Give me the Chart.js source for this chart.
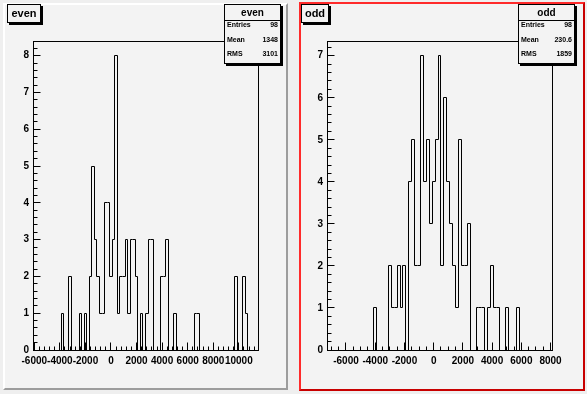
<!DOCTYPE html>
<html lang="en">
<head>
  <meta charset="UTF-8" />
  <title>even / odd</title>
  <script src="https://cdn.jsdelivr.net/npm/chart.js"></script>
  <style>
    html, body { margin: 0; padding: 0; }
    body { width: 587px; height: 394px; position: relative; overflow: hidden; background: #efefef; font-family: "Liberation Sans", Arial, sans-serif; }
    .pad { position: absolute; box-sizing: border-box; background: #f3f3f3; }
    #padEven { left: 3px; top: 3px; width: 285px; height: 387px; border: 2px solid; border-color: #ffffff #9c9c9c #9c9c9c #ffffff; }
    #padOdd { left: 299px; top: 2px; width: 286px; height: 389px; border: 2px solid; border-color: #ff2a2a #c80000 #c80000 #ff2a2a; }
    canvas { position: absolute; top: 0; }
    #evenChart { left: 0; }
    #oddChart { left: 293px; }
    .title, .stats { position: absolute; top: 4px; box-sizing: border-box; background: #f3f3f3; border: 1px solid #000; box-shadow: 2px 2px 0 #000; color: #000; }
    .title { height: 19px; font: bold 11px "Liberation Sans", Arial, sans-serif; text-align: center; line-height: 17px; }
    .stats { width: 57px; height: 60px; }
    .stats .hd { height: 15px; border-bottom: 1px solid #000; text-align: center; font: bold 10px "Liberation Sans", Arial, sans-serif; line-height: 15px; }
    .stats .row { display: flex; justify-content: space-between; padding: 0 2px; height: 14.5px; line-height: 14.5px; font: bold 7px "Liberation Sans", Arial, sans-serif; }
  </style>
</head>
<body>

  <!-- pads -->
  <div class="pad" id="padEven"></div>
  <div class="pad" id="padOdd"></div>

  <canvas id="evenChart" width="293" height="394"></canvas>
  <canvas id="oddChart" width="294" height="394"></canvas>

  <!-- titles + stat boxes -->
  <div class="title" style="left:7px; width:34px;">even</div>
  <div class="stats" style="left:224px;">
    <div class="hd">even</div>
    <div class="row"><span>Entries</span><span>98</span></div>
    <div class="row"><span>Mean</span><span>1348</span></div>
    <div class="row"><span>RMS</span><span>3101</span></div>
  </div>

  <div class="title" style="left:301px; width:28px;">odd</div>
  <div class="stats" style="left:518px;">
    <div class="hd">odd</div>
    <div class="row"><span>Entries</span><span>98</span></div>
    <div class="row"><span>Mean</span><span>230.6</span></div>
    <div class="row"><span>RMS</span><span>1859</span></div>
  </div>

  <script>
    // even histogram: 88 bins of 200 starting at -6100
    const evenXMin = -6100;
    const evenBinWidth = 200;
    const evenCounts = [
      0, 0, 0, 0, 0, 0, 0, 0, 0, 0,
      0, 1, 0, 0, 2, 0, 0, 0, 1, 0,
      1, 0, 2, 5, 3, 2, 1, 1, 4, 4,
      2, 3, 8, 1, 2, 2, 3, 1, 3, 3,
      2, 0, 1, 0, 1, 3, 3, 0, 0, 0,
      2, 2, 3, 0, 0, 1, 0, 0, 0, 0,
      0, 0, 0, 1, 1, 0, 0, 0, 0, 0,
      0, 0, 0, 0, 0, 0, 0, 0, 0, 2,
      0, 0, 2, 1, 0, 0, 0, 0
    ];
    const evenXTicks = [-6000, -4000, -2000, 0, 2000, 4000, 6000, 8000, 10000];
    const evenYTicks = [0, 1, 2, 3, 4, 5, 6, 7, 8];

    // odd histogram: 77 bins of 200 starting at -7300
    const oddXMin = -7300;
    const oddBinWidth = 200;
    const oddCounts = [
      0, 0, 0, 0, 0, 0, 0, 0, 0, 0,
      0, 0, 0, 0, 0, 0, 1, 0, 0, 0,
      0, 2, 1, 1, 2, 1, 2, 0, 4, 5,
      2, 2, 7, 4, 5, 3, 4, 5, 7, 2,
      6, 4, 3, 2, 1, 5, 2, 2, 3, 0,
      0, 1, 1, 1, 0, 1, 2, 1, 1, 0,
      0, 1, 0, 0, 0, 1, 0, 0, 0, 0,
      0, 0, 0, 0, 0, 0, 0
    ];
    const oddXTicks = [-6000, -4000, -2000, 0, 2000, 4000, 6000, 8000];
    const oddYTicks = [0, 1, 2, 3, 4, 5, 6, 7];

    const px = v => Math.floor(v) + 0.5;

    // ROOT style frame box + inward ticks, and crisp histogram outline
    const rootFrame = {
      id: 'rootFrame',
      afterDatasetsUpdate(chart) {
        chart.getDatasetMeta(0).data.forEach(p => { p.x = px(p.x); p.y = px(p.y); });
      },
      afterDatasetsDraw(chart, args, opts) {
        const { ctx, chartArea: a, scales: { x, y } } = chart;
        const L = px(a.left), R = px(a.right), T = px(a.top), B = px(a.bottom);
        ctx.save();
        ctx.strokeStyle = '#000';
        ctx.lineWidth = 1;
        ctx.strokeRect(L, T, R - L, B - T);
        ctx.beginPath();
        const step = opts.xMinor;
        for (let v = Math.ceil(x.min / step) * step; v <= x.max; v += step) {
          const xp = px(x.getPixelForValue(v));
          const major = opts.xTicks.includes(v);
          ctx.moveTo(xp, B);
          ctx.lineTo(xp, B - (major ? 8 : 4));
        }
        for (let i = 0; i * 0.2 <= y.max + 1e-9; i++) {
          const yp = px(y.getPixelForValue(i * 0.2));
          ctx.moveTo(L, yp);
          ctx.lineTo(L + (i % 5 === 0 ? 7 : 4), yp);
        }
        ctx.stroke();
        ctx.restore();
      }
    };

    function histPoints(xmin, width, counts) {
      const pts = counts.map((c, i) => ({ x: xmin + i * width, y: c }));
      pts.push({ x: xmin + counts.length * width, y: counts[counts.length - 1] });
      return pts;
    }

    function drawHist(id, xmin, width, counts, xTicks, yTicks, xMinor, pad) {
      const xmax = xmin + counts.length * width;
      const ymax = Math.max(...counts) * 1.05;
      const font = { family: '"Liberation Sans", Arial, sans-serif', size: 10, weight: 'bold' };
      return new Chart(document.getElementById(id), {
        type: 'line',
        data: {
          datasets: [{
            data: histPoints(xmin, width, counts),
            stepped: 'before',
            borderColor: '#000',
            borderWidth: 1,
            pointRadius: 0,
            fill: false,
            clip: false
          }]
        },
        options: {
          responsive: false,
          animation: false,
          devicePixelRatio: 1,
          layout: { padding: pad },
          plugins: {
            legend: { display: false },
            tooltip: { enabled: false },
            rootFrame: { xMinor: xMinor, xTicks: xTicks }
          },
          scales: {
            x: {
              type: 'linear', min: xmin, max: xmax,
              grid: { display: false, drawTicks: false },
              border: { display: false },
              afterBuildTicks: s => { s.ticks = xTicks.map(v => ({ value: v })); },
              afterFit: s => { s.height = 30; },
              ticks: { autoSkip: false, maxRotation: 0, minRotation: 0, padding: 5, color: '#000', font: font, callback: v => String(v) }
            },
            y: {
              type: 'linear', min: 0, max: ymax,
              grid: { display: false, drawTicks: false },
              border: { display: false },
              afterBuildTicks: s => { s.ticks = yTicks.map(v => ({ value: v })); },
              afterFit: s => { s.width = 28; },
              ticks: { padding: 4, color: '#000', font: font, callback: v => String(v) }
            }
          }
        },
        plugins: [rootFrame]
      });
    }

    drawHist('evenChart', evenXMin, evenBinWidth, evenCounts, evenXTicks, evenYTicks, 400,
      { left: 5, right: 35, top: 41, bottom: 14 });
    drawHist('oddChart', oddXMin, oddBinWidth, oddCounts, oddXTicks, oddYTicks, 500,
      { left: 6, right: 35, top: 41, bottom: 14 });
  </script>
</body>
</html>
